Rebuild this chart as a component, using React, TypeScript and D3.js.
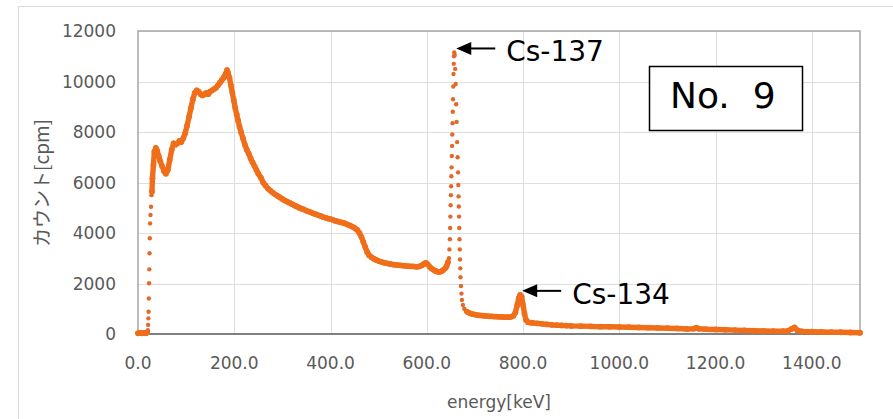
import React, { useEffect, useRef } from "react";
import * as d3 from "d3";

// spectrum: energy [keV] and count rate [cpm]
const energy = [
  0, 4, 8, 12, 16, 19, 20.5, 21, 21.5, 22, 22.5, 23, 23.5, 24, 24.5, 25, 26, 27, 28, 29, 30,
  32, 34, 37, 40, 43, 46, 50, 54, 58, 62, 66, 70, 74, 78, 82, 86, 90, 94, 98, 102, 106, 110,
  114, 118, 122, 126, 130, 134, 138, 142, 146, 150, 154, 158, 162, 166, 170, 174, 178, 182,
  185, 187, 190, 193, 196, 199, 202, 205, 208, 211, 214, 218, 222, 226, 230, 234, 238, 242,
  246, 250, 255, 260, 265, 270, 275, 280, 285, 290, 295, 300, 305, 310, 315, 320, 325, 330,
  335, 340, 345, 350, 355, 360, 365, 370, 375, 380, 385, 390, 395, 400, 405, 410, 415, 420,
  425, 430, 435, 440, 445, 450, 455, 460, 464, 468, 472, 476, 480, 485, 490, 495, 500, 505,
  510, 515, 520, 525, 530, 535, 540, 545, 550, 555, 560, 565, 570, 575, 580, 585, 590, 594,
  598, 602, 606, 610, 614, 618, 622, 626, 630, 634, 638, 641, 644,
  646, 647, 648, 648.5, 649, 649.5, 650, 650.5, 651, 651.5, 652, 652.5, 653, 653.5, 654,
  654.5, 655, 655.5, 656, 656.5, 657, 658, 659, 660, 661, 662, 663, 664, 665, 665.5, 666,
  666.5, 667, 667.5, 668, 668.5, 669, 669.5, 670, 671, 672, 673, 675, 678, 681,
  684, 690, 695, 700, 705, 710, 715, 720, 725, 730, 735, 740, 745, 750, 755, 760, 765, 770,
  775, 780, 784, 788, 791, 794, 797, 800, 803, 806, 810, 815, 820, 830, 840, 850, 860, 870,
  880, 890, 900, 920, 940, 960, 980, 1000, 1020, 1040, 1060, 1080, 1100, 1120, 1140, 1155,
  1160, 1165, 1180, 1200, 1220, 1240, 1260, 1280, 1300, 1320, 1340, 1350, 1358, 1364, 1370,
  1380, 1400, 1420, 1440, 1460, 1480, 1500,
];

const counts = [
  30, 40, 30, 40, 30, 60, 150, 360, 620, 880, 1410, 2010, 2560, 3200, 3790, 4380, 4710, 5040, 5500, 5640, 6170,
  6690, 7220, 7370, 7250, 7050, 6850, 6650, 6450, 6350, 6500, 6900, 7300, 7550, 7500, 7550, 7650, 7600, 7750, 7950, 8250, 8600, 8950,
  9300, 9550, 9650, 9600, 9500, 9450, 9500, 9550, 9500, 9600, 9650, 9700, 9750, 9850, 9950, 10050, 10150, 10300,
  10450, 10350, 10150, 9850, 9550, 9250, 8950, 8700, 8450, 8200, 8000, 7750, 7500, 7300, 7150, 6950, 6800, 6650,
  6500, 6350, 6200, 6000, 5880, 5760, 5680, 5600, 5530, 5470, 5410, 5350, 5290, 5240, 5190, 5140, 5090, 5050,
  5000, 4960, 4930, 4880, 4850, 4810, 4770, 4740, 4700, 4670, 4630, 4600, 4570, 4550, 4520, 4480, 4460, 4430,
  4410, 4380, 4340, 4300, 4250, 4200, 4130, 4000, 3850, 3650, 3450, 3250, 3120, 3040, 2980, 2930, 2890, 2860,
  2830, 2810, 2790, 2770, 2750, 2740, 2730, 2720, 2710, 2700, 2690, 2680, 2680, 2670, 2660, 2680, 2720, 2780,
  2820, 2760, 2660, 2590, 2540, 2500, 2470, 2460, 2480, 2530, 2600, 2680, 2850,
  3000, 3350, 3750, 4200, 4650, 5100, 5500, 5850, 6250, 6600, 7050, 7450, 7900, 8350, 8800,
  9300, 9800, 10300, 10700, 11000, 11150, 11050, 10500, 9900, 9100, 8400, 7600, 7000, 6400, 5900, 5450,
  5050, 4650, 4200, 3750, 3350, 2950, 2600, 2250, 1900, 1600, 1350, 1150, 1000, 920,
  880, 820, 790, 770, 750, 740, 730, 720, 710, 700, 700, 690, 690, 680, 680, 670, 670, 670,
  680, 720, 850, 1150, 1420, 1550, 1480, 1150, 800, 560, 470, 450, 440, 420, 400, 380, 360, 350,
  340, 330, 320, 310, 300, 290, 285, 280, 270, 260, 250, 240, 230, 220, 200, 210,
  250, 210, 190, 180, 170, 155, 140, 130, 120, 115, 110, 120, 200, 260, 140,
  100, 90, 80, 75, 70, 60, 50,
];

const xTicks = [0, 200, 400, 600, 800, 1000, 1200, 1400];
const yTicks = [0, 2000, 4000, 6000, 8000, 10000, 12000];

// peak labels: [energy, counts, text]
const peakLabels: [number, number, string][] = [
  [657, 11150, "Cs-137"],
  [794, 1550, "Cs-134"],
];

const sampleLabel = "No.\u00a0\u00a09";

// ranges where the measured points are drawn as separate dots only
const sparseRanges = [
  [19.5, 28.5],
  [644.5, 682],
];

const width = 893;
const height = 419;
const orange = "#F06E1A";

const App = () => {
  const svgRef = useRef<SVGSVGElement>(null);

  useEffect(() => {
    const svg = d3.select(svgRef.current);
    svg.selectAll("*").remove();

    const x = d3.scaleLinear().domain([0, 1500]).range([138, 860]);
    const y = d3.scaleLinear().domain([0, 12000]).range([334, 31]);

    const pts = energy.map((e, i) => ({ e, c: counts[i] }));

    // chart frame
    svg
      .append("rect")
      .attr("x", 18.5)
      .attr("y", 6.5)
      .attr("width", 900)
      .attr("height", 430)
      .attr("fill", "#fff")
      .attr("stroke", "#d9d9d9");

    // grid
    const grid = svg.append("g").attr("stroke", "#dedede").attr("stroke-width", 1);
    grid
      .selectAll("line.v")
      .data(xTicks.slice(1))
      .join("line")
      .attr("x1", (d) => Math.round(x(d)) + 0.5)
      .attr("x2", (d) => Math.round(x(d)) + 0.5)
      .attr("y1", y(12000))
      .attr("y2", y(0));
    grid
      .selectAll("line.h")
      .data(yTicks.slice(1))
      .join("line")
      .attr("x1", x(0))
      .attr("x2", x(1500))
      .attr("y1", (d) => Math.round(y(d)) + 0.5)
      .attr("y2", (d) => Math.round(y(d)) + 0.5);

    // plot border
    svg
      .append("rect")
      .attr("x", x(0))
      .attr("y", y(12000))
      .attr("width", x(1500) - x(0))
      .attr("height", y(0) - y(12000))
      .attr("fill", "none")
      .attr("stroke", "#a6a6a6")
      .attr("stroke-width", 1.5);
    svg
      .append("line")
      .attr("x1", x(0))
      .attr("x2", x(1500))
      .attr("y1", y(0))
      .attr("y2", y(0))
      .attr("stroke", "#808080")
      .attr("stroke-width", 1.8);

    // tick labels
    const tickFont = "DejaVu Sans, Verdana, sans-serif";
    svg
      .append("g")
      .attr("font-family", tickFont)
      .attr("font-size", 17)
      .attr("fill", "#595959")
      .attr("text-anchor", "end")
      .selectAll("text")
      .data(yTicks)
      .join("text")
      .attr("x", 116)
      .attr("y", (d) => y(d))
      .attr("dy", "0.36em")
      .text((d) => String(d));
    svg
      .append("g")
      .attr("font-family", tickFont)
      .attr("font-size", 17)
      .attr("fill", "#595959")
      .attr("text-anchor", "middle")
      .selectAll("text")
      .data(xTicks)
      .join("text")
      .attr("x", (d) => x(d))
      .attr("y", 369)
      .text((d) => d3.format(".1f")(d));

    // axis titles
    svg
      .append("text")
      .attr("x", x(750))
      .attr("y", 408)
      .attr("text-anchor", "middle")
      .attr("font-family", tickFont)
      .attr("font-size", 17)
      .attr("fill", "#595959")
      .text("energy[keV]");
    svg
      .append("text")
      .attr("transform", "translate(42,183) rotate(-90)")
      .attr("text-anchor", "middle")
      .attr("dy", "0.35em")
      .attr("font-family", "Noto Sans CJK JP, sans-serif")
      .attr("font-size", 19)
      .attr("fill", "#595959")
      .text("カウント[cpm]");

    // spectrum
    const inSparse = (e: number) => sparseRanges.some(([a, b]) => e > a && e < b);
    const line = d3
      .line<{ e: number; c: number }>()
      .defined((d) => !inSparse(d.e))
      .x((d) => x(d.e))
      .y((d) => y(d.c));
    svg
      .append("path")
      .datum(pts)
      .attr("d", line)
      .attr("fill", "none")
      .attr("stroke", orange)
      .attr("stroke-width", 5.4)
      .attr("stroke-linejoin", "round")
      .attr("stroke-linecap", "round");
    svg
      .append("g")
      .selectAll("circle")
      .data(pts)
      .join("circle")
      .attr("cx", (d) => x(d.e))
      .attr("cy", (d) => y(d.c))
      .attr("r", (d) => (inSparse(d.e) ? 2.2 : 2.9))
      .attr("fill", (d) => (inSparse(d.e) ? "#E2692A" : orange));

    // peak annotations
    const ann = svg.append("g");
    peakLabels.forEach(([e, c, label]) => {
      const tx = x(e) + 2;
      const ty = y(c) - 4;
      ann
        .append("line")
        .attr("x1", tx + 12)
        .attr("x2", tx + 39)
        .attr("y1", ty)
        .attr("y2", ty)
        .attr("stroke", "#000")
        .attr("stroke-width", 2);
      ann
        .append("path")
        .attr("d", `M${tx},${ty} L${tx + 15},${ty - 6.5} L${tx + 15},${ty + 6.5} Z`)
        .attr("fill", "#000");
      ann
        .append("text")
        .attr("x", tx + 50)
        .attr("y", ty + 13)
        .attr("font-family", "DejaVu Sans, sans-serif")
        .attr("font-size", 28)
        .attr("fill", "#000")
        .text(label);
    });

    // sample box
    svg
      .append("rect")
      .attr("x", 649.5)
      .attr("y", 66.5)
      .attr("width", 153)
      .attr("height", 64)
      .attr("fill", "#fff")
      .attr("stroke", "#000")
      .attr("stroke-width", 1.5);
    svg
      .append("text")
      .attr("x", 670)
      .attr("y", 108)
      .attr("font-family", "DejaVu Sans, sans-serif")
      .attr("font-size", 36)
      .attr("fill", "#000")
      .text(sampleLabel);
  }, []);

  return (
    <svg
      ref={svgRef}
      width={width}
      height={height}
      style={{ position: "absolute", left: 0, top: 0, display: "block", background: "#fff" }}
    ></svg>
  );
};

export default App;
